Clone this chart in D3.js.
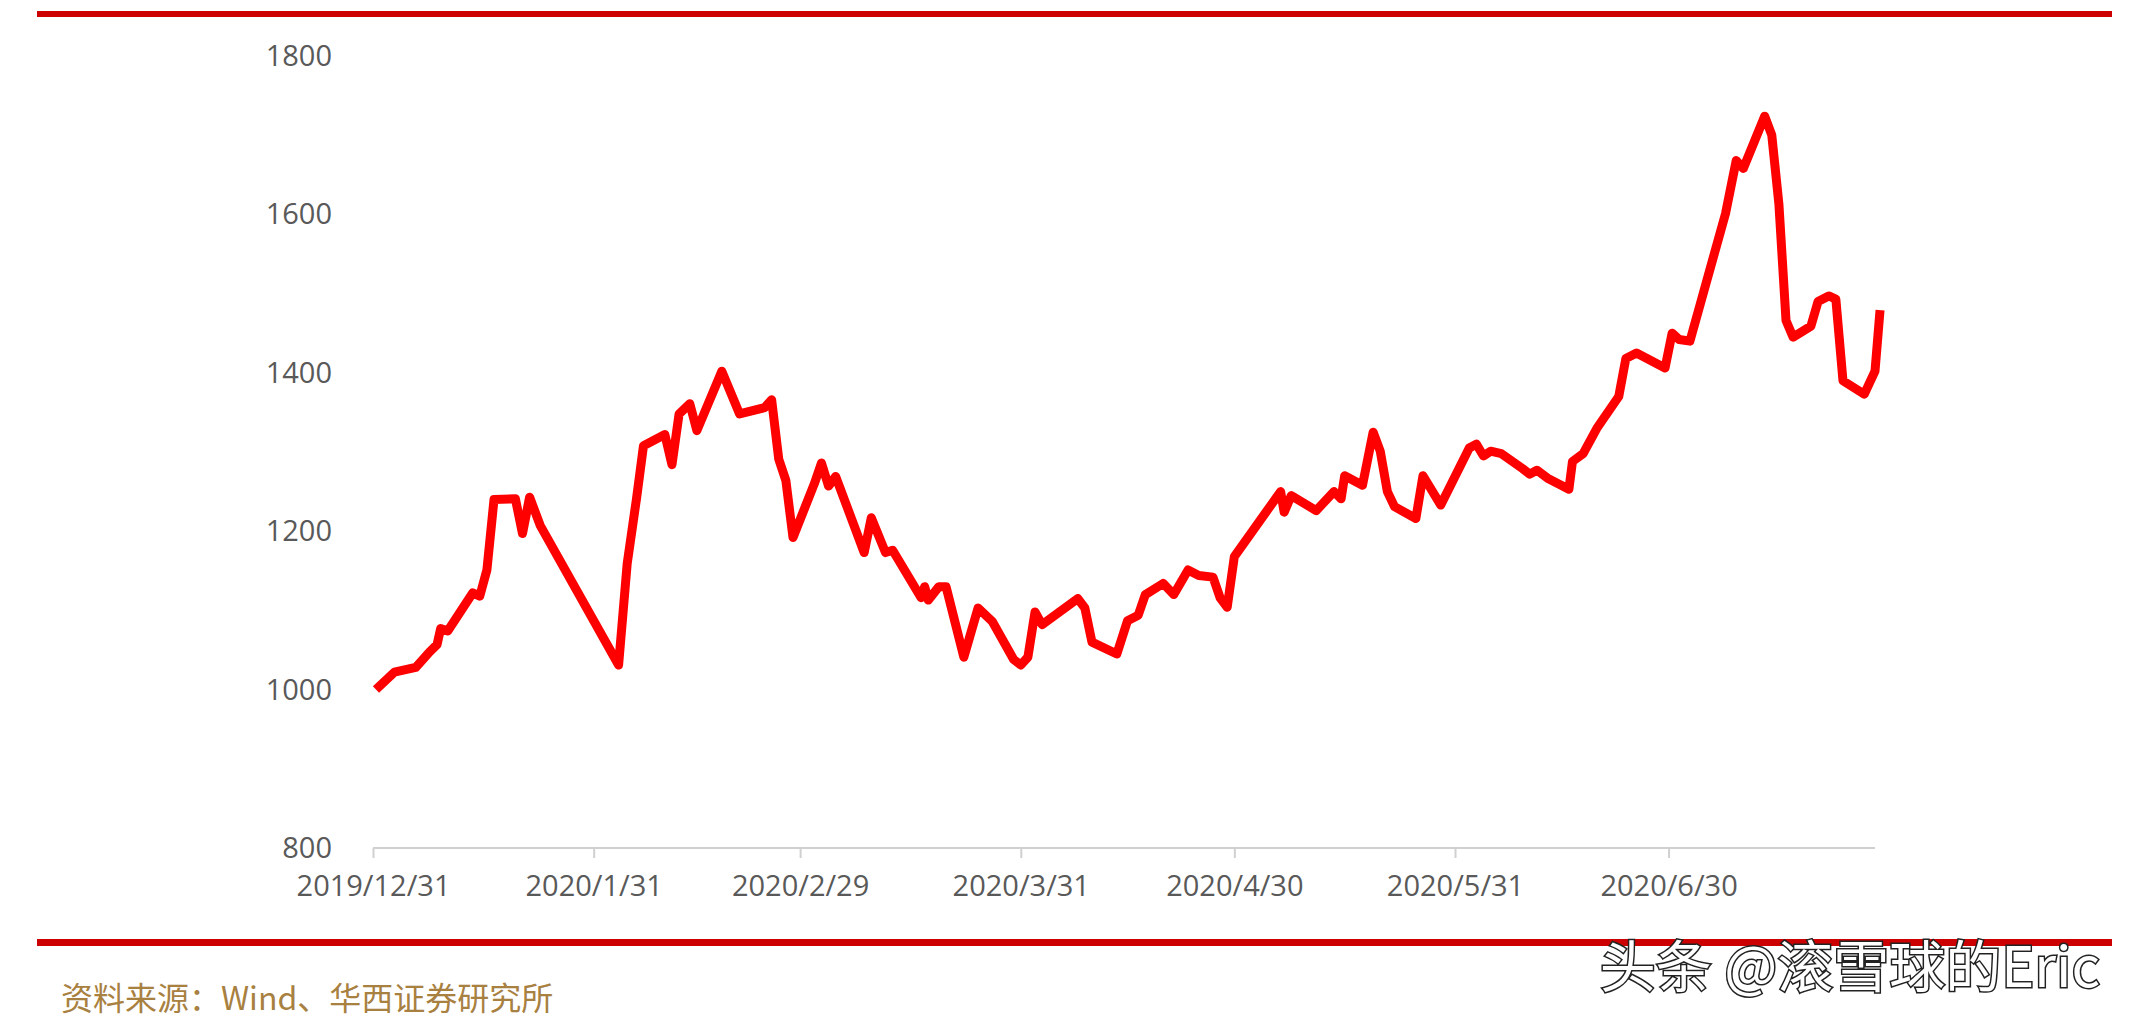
<!DOCTYPE html>
<html>
<head>
<meta charset="utf-8">
<script src="https://cdn.jsdelivr.net/npm/d3@7"></script>
<style>
  body { margin: 0; background: #fff; }
</style>
</head>
<body>
<div id="chart"></div>
<script>
// days after 2019/12/31 and index value
const days = [0.4,3,6,8,9,9.5,10.5,14,15,16,17,20,21,22,23.5,34.5,35.7,37,38,41,42,43,44.5,45.5,49,51.5,55,56,57,58,59,62,63,64,65,69,70,72,73,77,77.5,78,79.5,80.5,83,85,87,90,91,92,93,94,99,100,101,104.5,106,107.5,108.5,111,112.5,114.5,116,118,119,120,121,127.5,128,129,132.5,135,136,136.5,139,140.5,141.5,142.5,143.5,146.5,147.5,150,154,155,156,157,158.5,161.5,162.5,163.5,165,168,168.5,170,172,175,176,177.5,181.5,182.5,183.5,185,190,191.5,192.5,195.5,196.5,197.5,198.5,199.5,202,203,204.5,205.5,206.5,209.5,211,211.7];
const values = [1000,1022,1028,1048,1057,1077,1074,1122,1118,1151,1240,1241,1197,1243,1207,1031,1159,1240,1308,1322,1284,1348,1361,1327,1402,1348,1356,1366,1291,1264,1192,1260,1286,1257,1269,1173,1217,1173,1176,1116,1130,1113,1130,1130,1041,1103,1086,1038,1031,1041,1098,1082,1115,1103,1060,1045,1087,1094,1120,1134,1120,1151,1144,1142,1116,1104,1168,1250,1224,1245,1226,1250,1241,1270,1258,1325,1301,1250,1231,1216,1270,1233,1305,1310,1295,1301,1298,1279,1272,1277,1267,1253,1288,1298,1331,1370,1418,1425,1406,1450,1442,1440,1601,1668,1658,1724,1700,1613,1466,1445,1459,1490,1497,1493,1390,1373,1402,1479];
const tickDates = ["2019/12/31","2020/1/31","2020/2/29","2020/3/31","2020/4/30","2020/5/31","2020/6/30"];
const yTicks = [800,1000,1200,1400,1600,1800];

const W = 2130, H = 1021;
const start = new Date(2019, 11, 31);
const parse = d3.timeParse("%Y/%m/%d");
const labelFont = "'Liberation Sans Narrow', 'Open Sans', sans-serif";

const svg = d3.select("#chart").append("svg")
  .attr("width", W).attr("height", H);

const x = d3.scaleTime()
  .domain([start, d3.timeDay.offset(start, 211.8)])
  .range([373, 1875]);
const y = d3.scaleLinear().domain([800, 1800]).range([848, 56]);

// red rules
svg.append("rect").attr("x", 37).attr("y", 11).attr("width", 2075).attr("height", 6).attr("fill", "#cc0000");
svg.append("rect").attr("x", 37).attr("y", 939).attr("width", 2075).attr("height", 7).attr("fill", "#cc0000");

// y labels
svg.selectAll(".yl").data(yTicks).enter().append("text")
  .attr("x", 332).attr("y", d => y(d) + 10)
  .attr("text-anchor", "end")
  .style("font-family", labelFont)
  .style("font-size", "29px").style("fill", "#595959")
  .text(d => d);

// x axis
const xa = svg.append("g").attr("transform", "translate(0,848)")
  .call(d3.axisBottom(x)
    .tickValues(tickDates.map(parse))
    .tickFormat(d3.timeFormat("%Y/%-m/%-d"))
    .tickSize(10).tickSizeOuter(0));
xa.select(".domain").attr("stroke", "#d0d0d0").attr("stroke-width", 2)
  .attr("d", "M373,0H1875");
xa.selectAll(".tick line").attr("stroke", "#d0d0d0").attr("stroke-width", 2);
xa.selectAll(".tick text")
  .attr("dy", "1.2em")
  .style("font-family", labelFont)
  .style("font-size", "29px").style("fill", "#595959");

// line
const line = d3.line()
  .x((d, i) => x(d3.timeHour.offset(start, Math.round(days[i] * 24))))
  .y(d => y(d));
svg.append("path").datum(values)
  .attr("d", line)
  .attr("fill", "none").attr("stroke", "#ff0000")
  .attr("stroke-width", 9).attr("stroke-linejoin", "round");

// source
svg.append("text").attr("x", 61).attr("y", 1010)
  .style("font-family", "'Noto Sans CJK SC', sans-serif")
  .style("font-size", "32px").style("fill", "#a8803f")
  .text("资料来源：Wind、华西证券研究所");

// watermark
svg.append("text").attr("x", 2100).attr("y", 987)
  .attr("text-anchor", "end")
  .style("font-family", "'Noto Sans CJK SC', sans-serif")
  .style("font-size", "56px").style("fill", "#ffffff")
  .style("stroke", "#222").style("stroke-width", 3).style("paint-order", "stroke")
  .text("头条 @滚雪球的Eric");
</script>
</body>
</html>
